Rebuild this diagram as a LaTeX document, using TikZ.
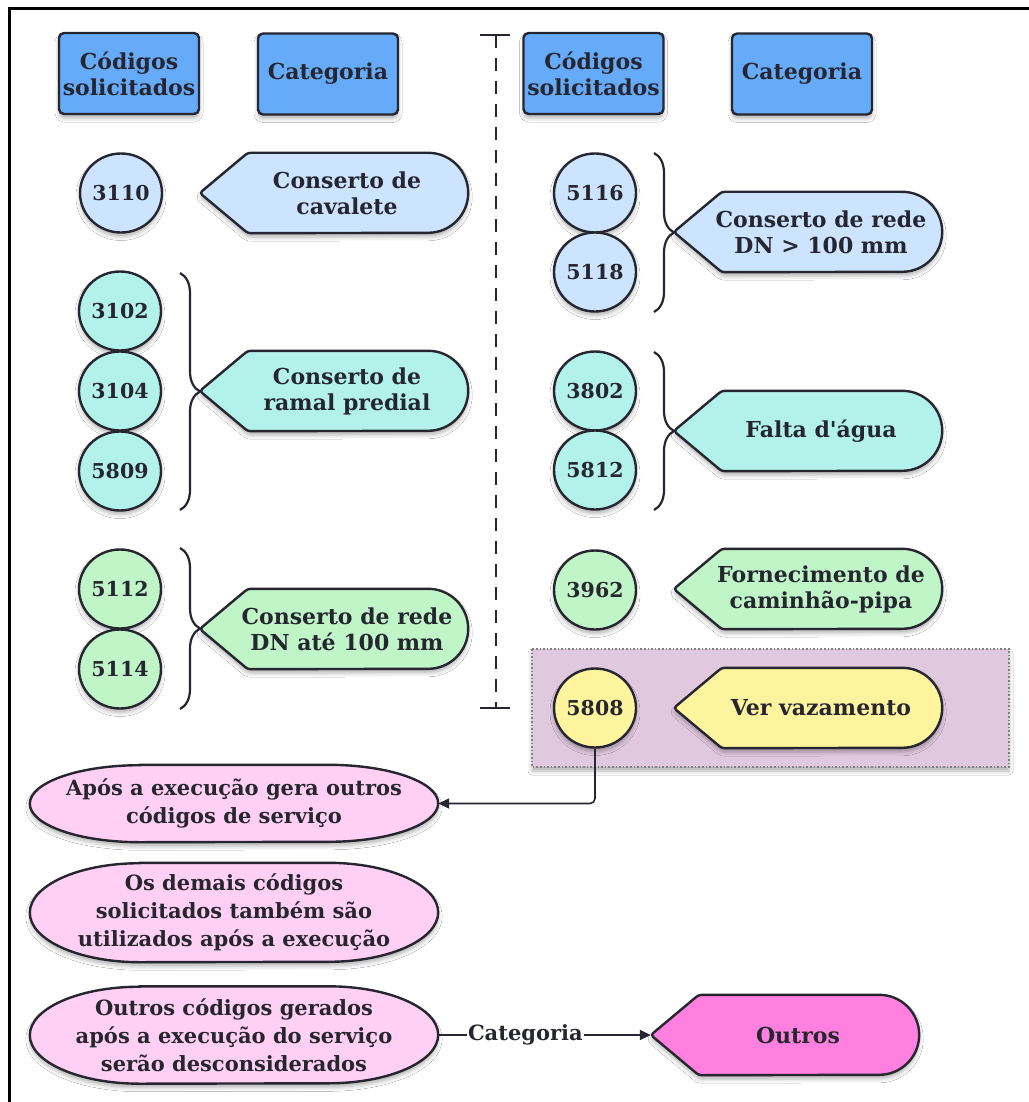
\documentclass[tikz,border=0pt]{standalone}
\usepackage{fontspec}
\setmainfont{DejaVu Serif}
\usetikzlibrary{shapes.geometric,decorations.pathreplacing,arrows.meta,shadows.blur}

\definecolor{ink}{RGB}{38,38,48}
\definecolor{headblue}{RGB}{102,170,250}
\definecolor{lblue}{RGB}{204,228,255}
\definecolor{lteal}{RGB}{178,242,234}
\definecolor{lgreen}{RGB}{192,245,200}
\definecolor{lyellow}{RGB}{255,244,158}
\definecolor{lpink}{RGB}{255,208,244}
\definecolor{hotpink}{RGB}{255,128,222}
\definecolor{mauve}{RGB}{224,200,222}

\tikzset{
  softshadow/.style={blur shadow={shadow xshift=0pt,shadow yshift=-4pt,shadow blur radius=4pt,shadow opacity=30}},
  outline/.style={draw=ink,line width=2.4pt},
  txt/.style={text=ink,font=\fontsize{22}{26}\selectfont\bfseries,align=center},
  notetxt/.style={text=ink,font=\fontsize{21}{28}\selectfont\bfseries,align=center},
  header/.style={outline,txt,fill=headblue,rounded corners=5pt,minimum width=140pt,minimum height=81pt,inner sep=0pt,softshadow},
  code/.style={outline,txt,font=\fontsize{20.5}{24}\selectfont\bfseries,ellipse,minimum width=82pt,minimum height=79pt,inner sep=0pt,softshadow},
  dispframe/.style={draw=none,minimum width=268pt,minimum height=80pt,inner sep=0pt},
  disptext/.style={txt,inner sep=0pt},
  noteframe/.style={draw=none,notetxt,minimum width=408pt,inner sep=0pt},
  bracket/.style={draw=ink,line width=2.2pt,decorate,decoration={brace,amplitude=20pt}},
  conn/.style={draw=ink,line width=1.6pt,-{Triangle[length=11pt,width=10pt]}},
}

% Category label: arrow point on the left, rounded right end
\newcommand{\catshape}[5]{% name, x, y, fill, text
  \node[dispframe] (#1) at (#2,#3) {};
  \draw[outline,fill=#4,softshadow]
    (#1.west) [rounded corners=3pt] -- ([xshift=48pt]#1.north west)
    [sharp corners] -- ([xshift=-40pt]#1.north east)
    arc[start angle=90,end angle=-90,x radius=40pt,y radius=40pt]
    [rounded corners=3pt] -- ([xshift=48pt]#1.south west) -- cycle;
  \node[disptext] (#1-t) at ([xshift=13pt]#1.center) {#5};
}

% Note: pink pill with elliptic ends and centred text
\newcommand{\notebox}[5]{% name, x, y, height, text
  \node[noteframe,minimum height=#4pt] (#1) at (#2,#3) {};
  \draw[outline,fill=lpink,softshadow]
    ([xshift=110pt]#1.north west) -- ([xshift=-110pt]#1.north east)
    arc[start angle=90,end angle=-90,x radius=110pt,y radius=#4pt/2]
    -- ([xshift=110pt]#1.south west)
    arc[start angle=270,end angle=90,x radius=110pt,y radius=#4pt/2] -- cycle;
  \node[notetxt,inner sep=0pt] (#1-t) at (#1.center) {#5};
}

\begin{document}
\begin{tikzpicture}[x=1pt,y=1pt]
\useasboundingbox (0,0) rectangle (1028,-1102);
\fill[white] (0,0) rectangle (1028,-1102);

% frame
\draw[line width=3pt,black] (9,-1110) -- (9,-9) -- (1040,-9);

% column headers
\node[header] (h1) at (129,-73.5) {Códigos\\solicitados};
\node[header] (h2) at (328,-74) {Categoria};
\node[header] (h3) at (593.5,-73.5) {Códigos\\solicitados};
\node[header] (h4) at (802,-74) {Categoria};

% separator between the two columns
\coordinate (sepT) at (496,-35);
\coordinate (sepB) at (496,-708);
\draw[ink,line width=1.8pt,dash pattern=on 13pt off 10pt] (sepT) -- (sepB);
\draw[ink,line width=1.8pt] ([xshift=-16pt]sepT) -- ([xshift=14pt]sepT);
\draw[ink,line width=1.8pt] ([xshift=-16pt]sepB) -- ([xshift=14pt]sepB);

% highlighted group
\draw[gray,line width=1.6pt,dotted,fill=mauve,softshadow] (532,-649) rectangle (1009,-767);

% left column
\node[code,fill=lblue] (c3110) at (121,-193) {3110};
\catshape{k1}{334}{-193}{lblue}{Conserto de\\cavalete}

\node[code,fill=lteal] (c3102) at (120,-311) {3102};
\node[code,fill=lteal] (c3104) at (120,-391) {3104};
\node[code,fill=lteal] (c5809) at (120,-471) {5809};
\draw[bracket] (180,-273) -- (180,-510);
\catshape{k2}{334}{-391}{lteal}{Conserto de\\ramal predial}

\node[code,fill=lgreen] (c5112) at (120,-589) {5112};
\node[code,fill=lgreen] (c5114) at (120,-669) {5114};
\draw[bracket] (180,-548) -- (180,-709);
\catshape{k3}{334}{-629}{lgreen}{Conserto de rede\\DN até 100 mm}

% right column
\node[code,fill=lblue] (c5116) at (595,-193) {5116};
\node[code,fill=lblue] (c5118) at (595,-272) {5118};
\draw[bracket] (654,-153) -- (654,-312);
\catshape{k4}{808}{-232}{lblue}{Conserto de rede\\DN > 100 mm}

\node[code,fill=lteal] (c3802) at (595,-391) {3802};
\node[code,fill=lteal] (c5812) at (595,-470) {5812};
\draw[bracket] (654,-352) -- (654,-510);
\catshape{k5}{808}{-431}{lteal}{Falta d\textquotesingle água}

\node[code,fill=lgreen] (c3962) at (595,-590) {3962};
\catshape{k6}{808}{-589}{lgreen}{Fornecimento de\\caminhão-pipa}

\node[code,fill=lyellow] (c5808) at (595,-708) {5808};
\catshape{k7}{808}{-708}{lyellow}{Ver vazamento}

% notes
\notebox{n1}{234}{-803.5}{77}{Após a execução gera outros\\códigos de serviço}
\notebox{n2}{234}{-912.5}{99}{Os demais códigos\\solicitados também são\\utilizados após a execução}
\notebox{n3}{234}{-1035}{97}{Outros códigos gerados\\após a execução do serviço\\serão desconsiderados}
\catshape{k8}{785}{-1035}{hotpink}{Outros}

% connectors
\draw[conn,rounded corners=5pt] (c5808.south) |- (n1.east);
\draw[conn] (n3.east) -- node[pos=0.41,fill=white,txt,font=\fontsize{21}{24}\selectfont\bfseries,inner sep=1pt] (lbl) {Categoria} (k8.west);
\end{tikzpicture}
\end{document}
